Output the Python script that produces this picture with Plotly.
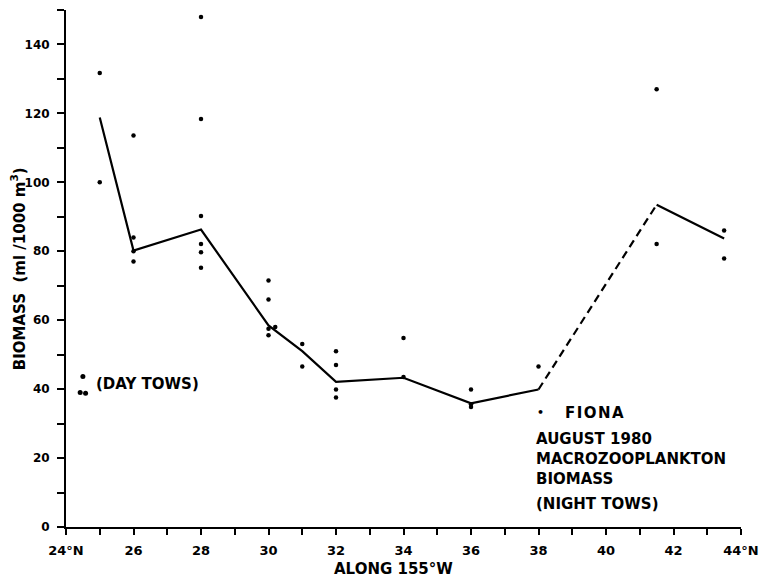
import plotly.graph_objects as go

# Night tows (FIONA, August 1980)
night_lat = [25, 25,
             26, 26, 26, 26,
             28, 28, 28, 28, 28, 28,
             30, 30, 30, 30, 30.2,
             31, 31,
             32, 32, 32, 32,
             34, 34,
             36, 36, 36,
             38,
             41.5, 41.5,
             43.5, 43.5]
night_bio = [131.7, 100,
             113.6, 84, 80, 77,
             148, 118.4, 90.2, 82.1, 79.7, 75.2,
             71.5, 66, 57.5, 55.6, 58,
             53.1, 46.6,
             51, 47, 39.9, 37.6,
             54.8, 43.5,
             39.9, 35.6, 34.8,
             46.6,
             127, 82.1,
             86, 77.9]

# Day tows
day_lat = [24.5, 24.42, 24.58]
day_bio = [43.7, 39.0, 38.8]

# Station mean line
mean_lat = [25, 26, 28, 30, 31, 32, 34, 36, 38, 41.5, 43.5]
mean_bio = [118.8, 80.2, 86.3, 58.5, 51, 42.1, 43.3, 35.9, 39.9, 93.5, 83.7]

# Tick labels
x_ticks = list(range(24, 45, 2))
x_text = ["24°N"] + [str(v) for v in range(26, 43, 2)] + ["44°N"]
y_ticks = list(range(0, 141, 20))
y_text = [str(v) for v in y_ticks]

FONT = "DejaVu Sans"
fig = go.Figure()

# solid segment 25-38
fig.add_trace(go.Scatter(x=mean_lat[:9], y=mean_bio[:9], mode="lines",
                         line=dict(color="black", width=2.2), showlegend=False, hoverinfo="skip"))
# dashed gap 38-41.5
fig.add_trace(go.Scatter(x=mean_lat[8:10], y=mean_bio[8:10], mode="lines",
                         line=dict(color="black", width=2.2, dash="8px,5px"), showlegend=False, hoverinfo="skip"))
# solid 41.5-43.5
fig.add_trace(go.Scatter(x=mean_lat[9:], y=mean_bio[9:], mode="lines",
                         line=dict(color="black", width=2.2), showlegend=False, hoverinfo="skip"))

fig.add_trace(go.Scatter(x=night_lat, y=night_bio, mode="markers", name="FIONA night tows",
                         marker=dict(color="black", size=4.5), showlegend=False))
fig.add_trace(go.Scatter(x=day_lat, y=day_bio, mode="markers", name="Day tows",
                         marker=dict(color="black", size=5), showlegend=False))

fig.update_layout(
    width=769, height=579,
    margin=dict(l=66, r=18, t=10, b=52),
    paper_bgcolor="white", plot_bgcolor="white",
    font=dict(family=FONT, color="black", size=12, weight="bold"),
    xaxis=dict(range=[24, 44], showgrid=False, zeroline=False,
               showline=True, linecolor="black", linewidth=2,
               ticks="outside", ticklen=6, tickwidth=2, tickcolor="black",
               tickvals=x_ticks, ticktext=x_text, ticklabelstandoff=4,
               minor=dict(dtick=1, tick0=24, ticks="outside", ticklen=6, tickwidth=2,
                          tickcolor="black", showgrid=False),
               tickfont=dict(size=13, family=FONT, weight="bold")),
    yaxis=dict(range=[0, 150], showgrid=False, zeroline=False,
               showline=True, linecolor="black", linewidth=2,
               ticks="outside", ticklen=7, tickwidth=2, tickcolor="black",
               tickvals=y_ticks, ticktext=y_text, ticklabelstandoff=5,
               minor=dict(dtick=10, tick0=0, ticks="outside", ticklen=7, tickwidth=2,
                          tickcolor="black", showgrid=False),
               tickfont=dict(size=12, family=FONT, weight="bold")),
)

def note(text, x, y, size=15, xanchor="left"):
    fig.add_annotation(text=text, x=x, y=y, xref="x", yref="y", xanchor=xanchor,
                       yanchor="middle", align="left", showarrow=False,
                       font=dict(family=FONT, size=size, color="black", weight="bold"))

note("(DAY TOWS)", 24.83, 41.6)
note("•", 38.05, 33.2, size=11, xanchor="center")
note("F\u200aI\u200aO\u200aN\u200aA", 38.72, 33.2)
note("AUGUST 1980", 37.88, 25.6)
note("MACROZOOPLANKTON<br>BIOMASS", 37.88, 16.9)
note("(NIGHT TOWS)", 37.88, 6.75)

# axis titles
fig.add_annotation(text="ALONG 155°W", x=(398 - 66) / 685, y=-(569 - 527) / 517,
                   xref="paper", yref="paper", xanchor="center", yanchor="middle",
                   showarrow=False, font=dict(family=FONT, size=15, color="black", weight="bold"))
fig.add_annotation(text="BIOMASS  (ml /1000 m<sup>3</sup>)", x=-(66 - 17) / 685, y=0.5,
                   xref="paper", yref="paper", xanchor="center", yanchor="middle",
                   textangle=-90, showarrow=False,
                   font=dict(family=FONT, size=15, color="black", weight="bold"))

fig.write_html("out.html")
